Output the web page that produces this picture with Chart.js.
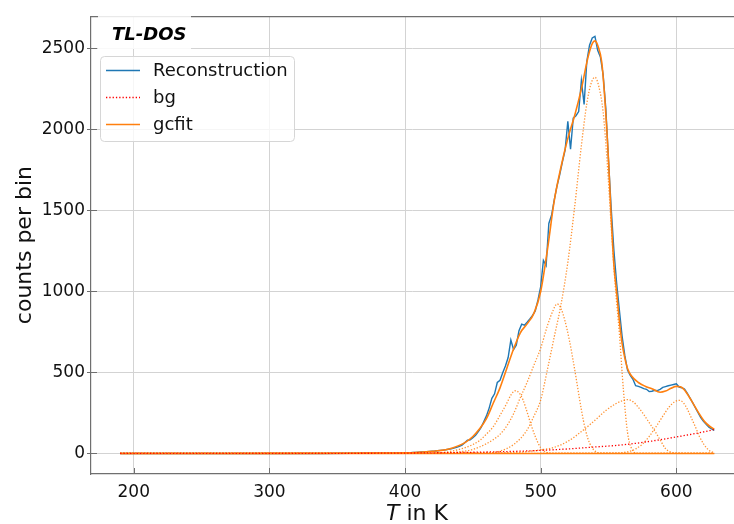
<!DOCTYPE html>
<html>
<head>
<meta charset="utf-8">
<script src="https://cdn.jsdelivr.net/npm/chart.js@4.4.1/dist/chart.umd.min.js"></script>
<style>
  html, body { margin: 0; padding: 0; background: #ffffff; }
  canvas { display: block; }
</style>
</head>
<body>
<canvas id="c" width="734" height="524"></canvas>
<script>
// Axis ticks
const xTicks = [200, 300, 400, 500, 600];
const yTicks = [0, 500, 1000, 1500, 2000, 2500];

// Reconstructed glow curve (counts per bin vs temperature in K)
const reconT = [190, 200, 220, 240, 260, 280, 300, 320, 340, 360, 380, 390,
  400, 402, 404, 406, 408, 410, 412, 414, 416, 418, 420, 422, 424, 426, 428, 430, 432, 434, 436, 438,
  440, 442, 444, 446, 448, 450, 452, 454, 456, 458, 460, 462, 464, 466, 468, 470, 472, 474, 476, 478,
  480, 482, 484, 486, 488, 490, 492, 494, 496, 498, 500, 502, 504, 506, 508, 510, 512, 514, 516, 518,
  520, 522, 524, 526, 528, 530, 532, 534, 536, 538, 540, 542, 544, 546, 548, 550, 552, 554, 556, 558,
  560, 562, 564, 566, 568, 570, 572, 574, 576, 578, 580, 582, 584, 586, 588, 590, 592, 594, 596, 598,
  600, 602, 604, 606, 608, 610, 612, 614, 616, 618, 620, 622, 624, 626, 628];
const reconCounts = [0, 0, 0, 0, 0, 0, 0, 0, 0, 1, 1, 2,
  3, 4, 5, 6, 7, 8, 9, 10, 11, 13, 14, 15, 17, 19, 21, 23, 26, 29, 33, 38,
  44, 52, 66, 82, 84, 98, 112, 135, 160, 195, 232, 280, 340, 368, 438, 452, 498, 540, 592, 700,
  642, 668, 758, 798, 792, 810, 830, 852, 880, 948, 1030, 1192, 1160, 1420, 1470, 1565, 1650, 1720, 1800, 1872,
  2050, 1878, 2070, 2085, 2110, 2302, 2155, 2420, 2520, 2565, 2575, 2488, 2448, 2340, 2130, 1810, 1510, 1250, 1050, 885,
  725, 605, 515, 482, 458, 418, 414, 408, 400, 396, 382, 384, 390, 388, 396, 408, 413, 418, 422, 426,
  430, 410, 406, 398, 372, 344, 314, 282, 252, 222, 198, 180, 162, 152, 142];

// Background
const bgT = [190, 300, 350, 400, 420, 440, 460, 480, 500, 520, 540, 560, 580, 600, 620, 628];
const bgCounts = [0, 0.2, 0.8, 2.5, 4, 6, 9, 13, 19, 28, 40, 53, 74, 102, 133, 148];

// Total fitted curve
const fitT = [190, 250, 300, 350, 380, 400, 410, 420, 430, 435, 440, 445, 450, 455, 460, 465, 470, 475,
  480, 485, 490, 495, 500, 505, 510, 515, 520, 525, 530, 535, 538, 540, 542, 545, 547, 550, 552, 554,
  556, 558, 560, 562, 564, 567, 572, 577, 582, 588, 592, 596, 600, 603, 606, 611, 616, 621, 625, 628];
const fitCounts = [0, 0, 0.3, 1, 2, 4, 8, 14, 23, 34, 50, 72, 105, 152, 215, 310, 405, 525,
  645, 745, 800, 865, 1000, 1260, 1560, 1770, 1945, 2085, 2250, 2450, 2530, 2547, 2520, 2415, 2220, 1810, 1450, 1160,
  995, 820, 680, 590, 525, 478, 438, 415, 400, 378, 385, 402, 414, 412, 392, 328, 257, 195, 165, 150];

// Individual glow peaks of the fit
const peakAT = [190, 420, 430, 440, 445, 450, 455, 460, 465, 470, 475, 478, 481, 484, 487, 490, 493, 496, 500, 504, 510, 628];
const peakACounts = [0, 2, 8, 25, 38, 55, 80, 120, 165, 235, 310, 360, 387, 375, 330, 255, 175, 105, 35, 8, 0, 0];

const peakBT = [190, 430, 440, 450, 460, 465, 470, 475, 480, 485, 490, 495, 500, 505, 509, 512, 515, 518, 521, 524, 527, 530, 533, 536, 540, 545, 628];
const peakBCounts = [0, 3, 10, 25, 60, 85, 118, 170, 245, 345, 440, 545, 650, 790, 880, 923, 895, 815, 705, 570, 420, 270, 145, 65, 15, 2, 0];

const peakCT = [190, 460, 470, 480, 490, 495, 500, 505, 510, 515, 520, 525, 530, 534, 537, 540, 543, 546, 549, 552, 555, 558, 561, 564, 567, 572, 628];
const peakCCounts = [0, 3, 15, 55, 145, 230, 330, 520, 720, 920, 1180, 1520, 1900, 2160, 2280, 2322, 2260, 2110, 1800, 1400, 1030, 740, 390, 130, 30, 0, 0];

const peakDT = [190, 480, 490, 500, 510, 520, 530, 540, 548, 555, 560, 564, 568, 572, 576, 580, 584, 588, 592, 596, 600, 628];
const peakDCounts = [0, 5, 12, 22, 38, 75, 135, 205, 265, 305, 325, 332, 320, 285, 240, 190, 140, 85, 30, 8, 2, 0];

const peakET = [190, 555, 560, 565, 570, 575, 580, 585, 590, 595, 599, 602, 605, 608, 611, 614, 617, 620, 624, 628];
const peakECounts = [0, 2, 5, 12, 28, 58, 105, 165, 230, 290, 320, 328, 315, 275, 220, 165, 105, 60, 20, 5];

const baseT = [190, 628];
const baseCounts = [0, 0];

function pts(xs, ys) { return xs.map((x, i) => ({ x: x, y: ys[i] })); }

const FONT = "'DejaVu Sans', 'Liberation Sans', sans-serif";
const BLUE = '#1f77b4', ORANGE = '#ff7f0e', RED = '#ff0000';
const SPINE = '#6f6f6f';

function peakSet(xs, ys) {
  return {
    data: pts(xs, ys), borderColor: 'rgba(255,127,14,0.85)', borderWidth: 1.3,
    borderDash: [1.3, 1.7], pointRadius: 0, cubicInterpolationMode: 'monotone', order: 3
  };
}

const datasets = [
  { label: 'Reconstruction', data: pts(reconT, reconCounts), borderColor: BLUE, borderWidth: 1.4,
    pointRadius: 0, tension: 0, order: 6 },
  { label: 'bg', data: pts(bgT, bgCounts), borderColor: RED, borderWidth: 1.3,
    borderDash: [1.3, 2], pointRadius: 0, cubicInterpolationMode: 'monotone', order: 2 },
  { label: 'gcfit', data: pts(fitT, fitCounts), borderColor: ORANGE, borderWidth: 1.6,
    pointRadius: 0, cubicInterpolationMode: 'monotone', order: 4 },
  peakSet(peakAT, peakACounts),
  peakSet(peakBT, peakBCounts),
  peakSet(peakCT, peakCCounts),
  peakSet(peakDT, peakDCounts),
  peakSet(peakET, peakECounts),
  { data: pts(baseT, baseCounts), borderColor: ORANGE, borderWidth: 1.4, pointRadius: 0, order: 5 }
];

// Spines (top) and tick marks
const framePlugin = {
  id: 'frame',
  afterDatasetsDraw(chart) {
    const ctx = chart.ctx, a = chart.chartArea;
    const xs = chart.scales.x, ys = chart.scales.y;
    ctx.save();
    ctx.strokeStyle = SPINE;
    ctx.lineWidth = 1.2;
    ctx.beginPath();
    ctx.moveTo(a.left, a.top + 0.5);
    ctx.lineTo(a.right, a.top + 0.5);
    ctx.stroke();
    ctx.lineWidth = 1;
    ctx.beginPath();
    xTicks.forEach(v => {
      const px = Math.round(xs.getPixelForValue(v)) + 0.5;
      ctx.moveTo(px, a.bottom);
      ctx.lineTo(px, a.bottom - 6);
    });
    yTicks.forEach(v => {
      const py = Math.round(ys.getPixelForValue(v)) + 0.5;
      ctx.moveTo(a.left - 4, py);
      ctx.lineTo(a.left + 6, py);
    });
    ctx.stroke();
    ctx.restore();
  }
};

// Axis titles, text box and legend
const annotatePlugin = {
  id: 'annotate',
  afterDraw(chart) {
    const ctx = chart.ctx, a = chart.chartArea;
    ctx.save();
    ctx.fillStyle = '#111';
    // x title: italic T
    const fs = 22;
    ctx.font = `italic ${fs}px ${FONT}`;
    const wT = ctx.measureText('T').width;
    ctx.font = `${fs}px ${FONT}`;
    const wRest = ctx.measureText(' in K').width;
    const cx = 417;
    let x0 = cx - (wT + wRest) / 2;
    ctx.textBaseline = 'alphabetic';
    ctx.textAlign = 'left';
    ctx.font = `italic ${fs}px ${FONT}`;
    ctx.fillText('T', x0, 520);
    ctx.font = `${fs}px ${FONT}`;
    ctx.fillText(' in K', x0 + wT, 520);
    // y title
    ctx.save();
    ctx.translate(25, (a.top + a.bottom) / 2);
    ctx.rotate(-Math.PI / 2);
    ctx.textAlign = 'center';
    ctx.textBaseline = 'middle';
    ctx.font = `${fs}px ${FONT}`;
    ctx.fillText('counts per bin', 0, 0);
    ctx.restore();

    // label box
    ctx.fillStyle = 'rgba(255,255,255,0.85)';
    ctx.fillRect(98, 14, 93, 35);
    ctx.fillStyle = '#000';
    ctx.font = `italic bold 18px ${FONT}`;
    ctx.textAlign = 'left';
    ctx.textBaseline = 'alphabetic';
    ctx.fillText('TL-DOS', 112, 39.5);

    // legend
    const bx = 100.5, by = 56.5, bw = 194, bh = 85, r = 4;
    ctx.beginPath();
    ctx.moveTo(bx + r, by);
    ctx.lineTo(bx + bw - r, by);
    ctx.arcTo(bx + bw, by, bx + bw, by + r, r);
    ctx.lineTo(bx + bw, by + bh - r);
    ctx.arcTo(bx + bw, by + bh, bx + bw - r, by + bh, r);
    ctx.lineTo(bx + r, by + bh);
    ctx.arcTo(bx, by + bh, bx, by + bh - r, r);
    ctx.lineTo(bx, by + r);
    ctx.arcTo(bx, by, bx + r, by, r);
    ctx.closePath();
    ctx.fillStyle = 'rgba(255,255,255,0.8)';
    ctx.fill();
    ctx.strokeStyle = '#d6d6d6';
    ctx.lineWidth = 1;
    ctx.stroke();

    const rows = [70.5, 97.5, 124.5];
    chart.data.datasets.slice(0, 3).forEach((ds, i) => {
      const y = rows[i];
      ctx.beginPath();
      ctx.strokeStyle = ds.borderColor;
      ctx.lineWidth = ds.borderWidth;
      ctx.setLineDash(ds.borderDash || []);
      ctx.moveTo(106, y);
      ctx.lineTo(140, y);
      ctx.stroke();
      ctx.setLineDash([]);
      ctx.fillStyle = '#111';
      ctx.font = `18px ${FONT}`;
      ctx.textBaseline = 'middle';
      ctx.fillText(ds.label, 153, y + 1);
    });
    ctx.restore();
  }
};

new Chart(document.getElementById('c'), {
  type: 'line',
  data: { datasets: datasets },
  options: {
    responsive: false,
    devicePixelRatio: 1,
    animation: false,
    parsing: true,
    layout: { padding: { top: 10, right: 0, left: 0, bottom: 0 } },
    plugins: { legend: { display: false }, tooltip: { enabled: false } },
    scales: {
      x: {
        type: 'linear', min: 168.5, max: 642.5,
        afterFit: s => { s.height = 50; },
        afterBuildTicks: s => { s.ticks = xTicks.map(v => ({ value: v })); },
        ticks: { font: { family: FONT, size: 17 }, color: '#111', padding: 8, maxRotation: 0,
                 callback: v => String(v) },
        grid: { color: '#d3d3d3', lineWidth: 1, drawTicks: false },
        border: { display: true, color: SPINE, width: 1.2 }
      },
      y: {
        type: 'linear', min: -126.7, max: 2699,
        afterFit: s => { s.width = 91; },
        afterBuildTicks: s => { s.ticks = yTicks.map(v => ({ value: v })); },
        ticks: { font: { family: FONT, size: 17 }, color: '#111', padding: 6,
                 callback: v => String(v) },
        grid: { color: '#d3d3d3', lineWidth: 1, drawTicks: false },
        border: { display: true, color: SPINE, width: 1.2 }
      }
    }
  },
  plugins: [framePlugin, annotatePlugin]
});
</script>
</body>
</html>
